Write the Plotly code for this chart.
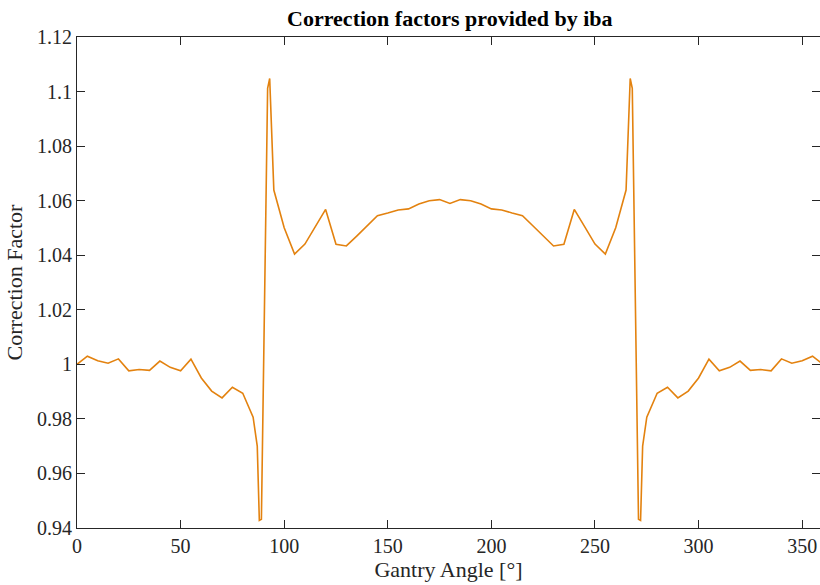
import plotly.graph_objects as go

angles = [0, 5, 10, 15, 20, 25, 30, 35, 40, 45, 50, 55, 60, 65, 70, 75, 80, 85,
          87, 88, 89, 92, 93, 95, 100, 105, 110, 115, 120, 125, 130, 135, 140, 145,
          150, 155, 160, 165, 170, 175, 180, 185, 190, 195, 200, 205, 210, 215, 220,
          225, 230, 235, 240, 245, 250, 255, 260, 265, 267, 268, 271, 272, 273, 275,
          280, 285, 290, 295, 300, 305, 310, 315, 320, 325, 330, 335, 340, 345, 350,
          355, 360]
factors = [1.0000, 1.0030, 1.0013, 1.0004, 1.0020, 0.9976, 0.9981, 0.9978, 1.0012,
           0.9989, 0.9976, 1.0019, 0.9950, 0.9902, 0.9877, 0.9916, 0.9894, 0.9806,
           0.9700, 0.9428, 0.9432, 1.1012, 1.1048, 1.0639, 1.0501, 1.0404, 1.0441,
           1.0505, 1.0568, 1.0440, 1.0434, 1.0470, 1.0508, 1.0545, 1.0555, 1.0566,
           1.0570, 1.0588, 1.0600, 1.0604, 1.0590, 1.0604, 1.0600, 1.0588, 1.0570,
           1.0566, 1.0555, 1.0545, 1.0508, 1.0470, 1.0434, 1.0440, 1.0568, 1.0505,
           1.0441, 1.0404, 1.0501, 1.0639, 1.1048, 1.1012, 0.9432, 0.9428, 0.9700,
           0.9806, 0.9894, 0.9916, 0.9877, 0.9902, 0.9950, 1.0019, 0.9976, 0.9989,
           1.0012, 0.9978, 0.9981, 0.9976, 1.0020, 1.0004, 1.0013, 1.0030, 1.0000]

x_ticks = [0, 50, 100, 150, 200, 250, 300, 350]
y_ticks = [0.94, 0.96, 0.98, 1.00, 1.02, 1.04, 1.06, 1.08, 1.10, 1.12]
y_tick_labels = ["0.94", "0.96", "0.98", "1", "1.02", "1.04", "1.06", "1.08", "1.1", "1.12"]

axis_color = "#262626"
font_family = "Liberation Serif, Times New Roman, serif"

fig = go.Figure()
fig.add_trace(go.Scatter(
    x=angles, y=factors, mode="lines",
    line=dict(color="#E3820F", width=1.6),
    showlegend=False,
))

fig.update_layout(
    width=820, height=585,
    margin=dict(l=77, r=0, t=37, b=57),
    paper_bgcolor="white", plot_bgcolor="white",
    font=dict(family=font_family, color=axis_color, size=20),
    title=dict(
        text="<b>Correction factors provided by iba</b>",
        x=0.5018, xref="paper", xanchor="center",
        y=1 - 18 / 585, yref="container", yanchor="middle",
        font=dict(family=font_family, size=22, color="black"),
    ),
)

fig.update_xaxes(
    range=[0, 358.6], tickmode="array", tickvals=x_ticks,
    ticks="inside", ticklen=8, tickwidth=1, tickcolor=axis_color,
    showline=True, linecolor=axis_color, linewidth=1, mirror="ticks",
    showgrid=False, zeroline=False,
    title=dict(text="Gantry Angle [°]", font=dict(size=22), standoff=4),
    tickfont=dict(size=20),
)
fig.update_yaxes(
    range=[0.94, 1.12], tickmode="array", tickvals=y_ticks, ticktext=y_tick_labels,
    ticks="inside", ticklen=8, tickwidth=1, tickcolor=axis_color,
    showline=True, linecolor=axis_color, linewidth=1, mirror="ticks",
    showgrid=False, zeroline=False,
    title=dict(text="Correction Factor", font=dict(size=22), standoff=8),
    tickfont=dict(size=20),
)

fig.write_html("out.html")
